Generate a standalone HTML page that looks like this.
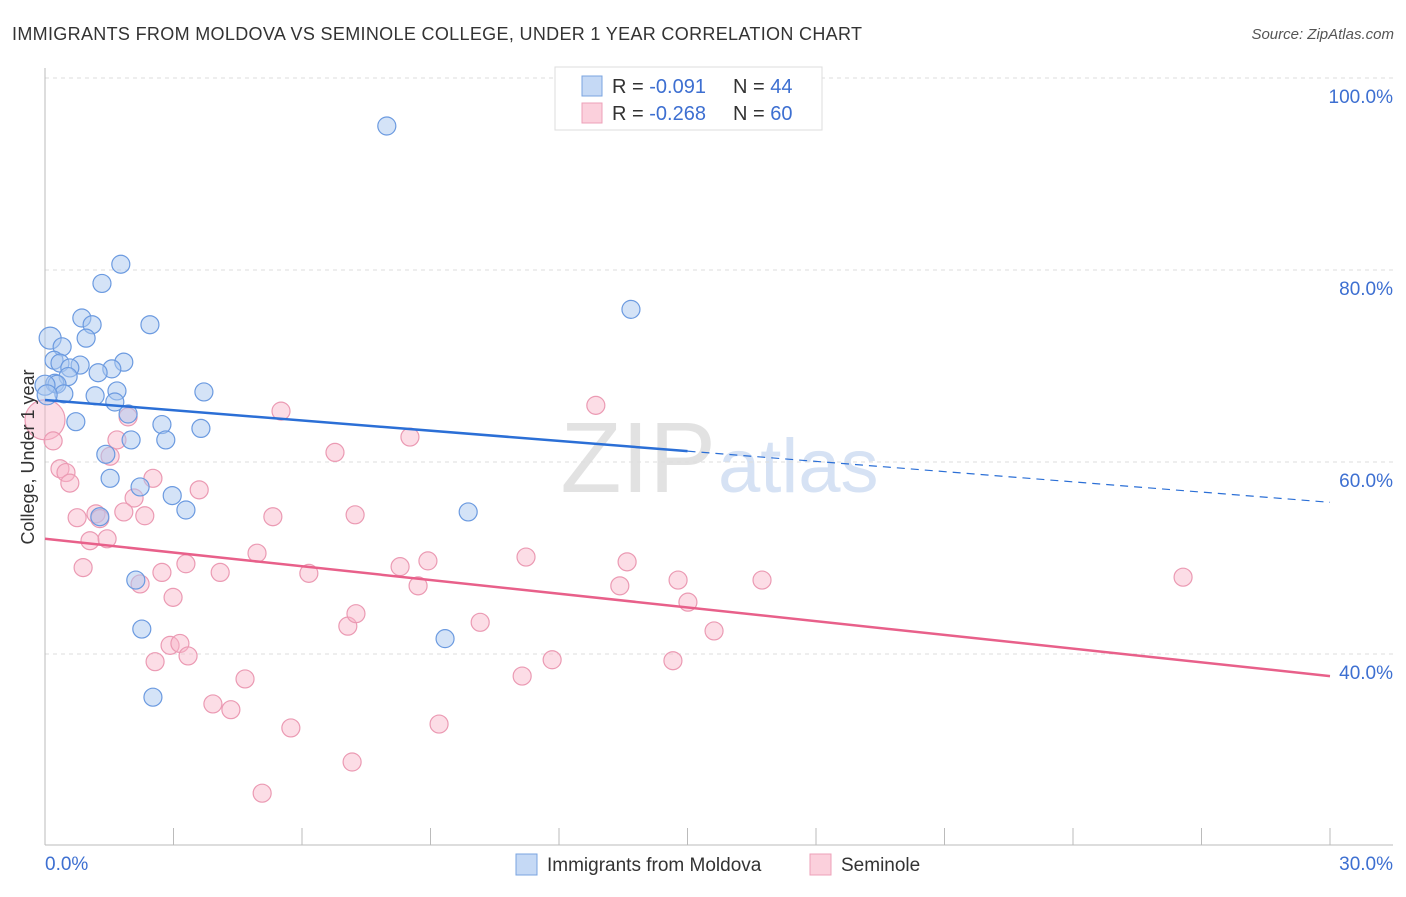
<!DOCTYPE html>
<html><head><meta charset="utf-8"><style>
body{margin:0;background:#fff;font-family:"Liberation Sans",sans-serif;}
svg text{font-family:"Liberation Sans",sans-serif;}
</style></head><body>
<svg id="c" width="1406" height="892" xmlns="http://www.w3.org/2000/svg">
<text x="12" y="40" font-size="18" fill="#333" textLength="850" lengthAdjust="spacing">IMMIGRANTS FROM MOLDOVA VS SEMINOLE COLLEGE, UNDER 1 YEAR CORRELATION CHART</text>
<text x="1394" y="39" font-size="15" fill="#555" text-anchor="end" font-style="italic">Source: ZipAtlas.com</text>
<text x="716" y="492" font-size="100" fill="#e2e2e2" text-anchor="end" font-family="Liberation Serif">ZIP</text>
<text x="718" y="492" font-size="76" fill="#d6e2f4">atlas</text>
<g id="grid"></g>
<g id="axes"></g>
<g id="pts"></g>
<g id="trend"></g>
<text transform="translate(34,457) rotate(-90)" font-size="18" fill="#333" text-anchor="middle">College, Under 1 year</text>
<g>
<rect x="555" y="67" width="267" height="63" fill="#fff" stroke="#ddd"/>
<rect x="582" y="76" width="20" height="20" fill="#c5d9f5" stroke="#7aa4e0"/>
<rect x="582" y="103" width="20" height="20" fill="#fbd0dc" stroke="#eea0b8"/>
<text x="612" y="93" font-size="20" fill="#333">R = <tspan fill="#3d6fd1">-0.091</tspan></text>
<text x="733" y="93" font-size="20" fill="#333">N = <tspan fill="#3d6fd1">44</tspan></text>
<text x="612" y="120" font-size="20" fill="#333">R = <tspan fill="#3d6fd1">-0.268</tspan></text>
<text x="733" y="120" font-size="20" fill="#333">N = <tspan fill="#3d6fd1">60</tspan></text>
</g>
<g>
<rect x="516" y="854" width="21" height="21" fill="#c5d9f5" stroke="#7aa4e0"/>
<text x="547" y="871" font-size="19" fill="#333">Immigrants from Moldova</text>
<rect x="810" y="854" width="21" height="21" fill="#fbd0dc" stroke="#eea0b8"/>
<text x="841" y="871" font-size="19" fill="#333">Seminole</text>
</g>
</svg>
<script>
const blueX=[7.98,1.77,1.33,13.68,0.86,1.10,2.45,0.12,0.96,0.40,0.21,0.82,1.84,0.35,0.58,1.56,1.24,0.54,3.71,1.68,0.23,0.28,0.44,1.17,1.63,1.94,0.72,2.73,3.64,2.01,2.82,1.42,1.52,2.22,2.97,3.29,9.88,1.28,2.12,2.26,9.34,2.52,0.0,0.05];
const blueY=[95.0,80.6,78.6,75.9,75.0,74.3,74.3,72.9,72.9,72.0,70.6,70.1,70.4,70.3,69.8,69.7,69.3,68.9,67.3,67.4,68.2,68.1,67.1,66.9,66.25,65.0,64.2,63.9,63.5,62.3,62.3,60.8,58.3,57.4,56.5,55.0,54.8,54.3,47.7,42.6,41.6,35.5,68.0,67.0];
const pinkX=[0,0.19,5.51,12.86,8.52,6.77,1.94,1.68,1.52,2.52,0.35,0.49,0.58,2.08,3.60,0.75,1.19,1.28,1.84,2.33,5.32,7.24,1.05,1.45,4.95,3.29,11.23,13.59,8.29,8.94,0.89,2.73,4.09,6.16,8.71,13.42,14.78,16.74,26.57,2.22,2.99,15.01,10.16,7.07,7.26,2.92,3.15,3.34,2.57,11.84,14.66,15.62,4.67,11.14,3.92,4.34,9.20,5.74,7.17,5.07];
const pinkY=[64.4,62.2,65.3,65.9,62.6,61.0,64.7,62.3,60.6,58.3,59.3,58.9,57.8,56.25,57.1,54.2,54.6,54.1,54.8,54.4,54.3,54.5,51.8,52.0,50.5,49.4,50.1,49.6,49.1,49.7,49.0,48.5,48.5,48.4,47.1,47.1,47.7,47.7,48.0,47.3,45.9,45.4,43.3,42.9,44.2,40.9,41.1,39.8,39.2,39.4,39.3,42.4,37.4,37.7,34.8,34.2,32.7,32.3,28.75,25.5];
const blueTrend=[66.46,55.8];
const pinkTrend=[52.0,37.7];
const yTicks=[100,80,60,40];
const yTickLabels=["100.0%","80.0%","60.0%","40.0%"];
const xTicks=[0,3,6,9,12,15,18,21,24,27,30];
const xEndLabels=["0.0%","30.0%"];
const NS="http://www.w3.org/2000/svg";
function sx(v){return 45+v*1285/30;}
function sy(v){return 654-(v-40)*9.6;}
function mk(t,a,p){const e=document.createElementNS(NS,t);for(const k in a)e.setAttribute(k,a[k]);p.appendChild(e);return e;}
const grid=document.getElementById('grid'),axes=document.getElementById('axes'),pts=document.getElementById('pts'),trend=document.getElementById('trend');
yTicks.forEach((v,i)=>{
 const l=mk('line',{x1:45,x2:1393,y1:sy(v),y2:sy(v),stroke:'#ddd','stroke-dasharray':'4,4'},grid);
 
 
 const t=mk('text',{x:1393,y:sy(v)+25,'font-size':19,fill:'#3d6fd1','text-anchor':'end'},grid);
 t.textContent=yTickLabels[i];
 
 
});
const ya=mk('line',{x1:45,x2:45,y1:68,y2:845,stroke:'#bbb'},axes);


const xa=mk('line',{x1:45,x2:1393,y1:845,y2:845,stroke:'#bbb'},axes);


xTicks.forEach(v=>{
 const l=mk('line',{x1:sx(v),x2:sx(v),y1:828,y2:845,stroke:'#bbb'},axes);
 
 
});
[[0,'start'],[30,'end']].forEach((d,i)=>{
 const t=mk('text',{x:i?1393:45,y:870,'font-size':19,fill:'#3d6fd1','text-anchor':d[1]},axes);
 t.textContent=xEndLabels[i];
 
 
});
pinkX.forEach((x,i)=>{
 const c=mk('circle',{cx:sx(x),cy:sy(pinkY[i]),r:i===0?20:9,fill:'rgba(248,180,200,0.45)',stroke:'#eb9ab3','stroke-width':1.2},pts);
 
 
});
blueX.forEach((x,i)=>{
 const r=(i===7)?11:(i>=42?10:9);
 const c=mk('circle',{cx:sx(x),cy:sy(blueY[i]),r:r,fill:'rgba(170,200,240,0.5)',stroke:'#6b9ae0','stroke-width':1.2},pts);
 
 
});
function tv(t,x){return t[0]+(t[1]-t[0])*x/30;}
const b1=mk('line',{x1:sx(0),y1:sy(tv(blueTrend,0)),x2:sx(15),y2:sy(tv(blueTrend,15)),stroke:'#2b6fd6','stroke-width':2.5},trend);


const b2=mk('line',{x1:sx(15),y1:sy(tv(blueTrend,15)),x2:sx(30),y2:sy(tv(blueTrend,30)),stroke:'#2b6fd6','stroke-width':1.2,'stroke-dasharray':'8,6'},trend);


const p1=mk('line',{x1:sx(0),y1:sy(tv(pinkTrend,0)),x2:sx(30),y2:sy(tv(pinkTrend,30)),stroke:'#e8608a','stroke-width':2.5},trend);


</script>
</body></html>
